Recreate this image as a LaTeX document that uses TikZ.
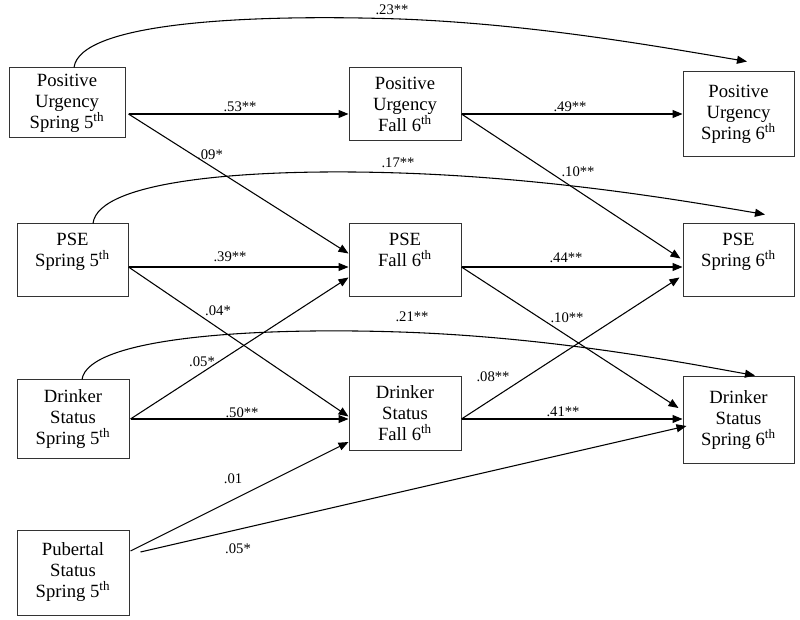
\documentclass[tikz,border=0pt]{standalone}
\usepackage{fontspec}
\setmainfont{Liberation Serif}
\usetikzlibrary{arrows.meta,calc}
\begin{document}
\begin{tikzpicture}[x=0.75pt,y=-0.75pt,
  box/.style={draw=black!80, line width=0.75pt, align=center, inner sep=0pt,
    font=\fontsize{14}{15.75}\selectfont},
  lab/.style={inner sep=0pt, font=\fontsize{11}{12}\selectfont},
  arr/.style={line width=0.8pt, -{Triangle[length=7.5pt,width=6pt]}}]
\useasboundingbox (0,0) rectangle (800,620);
% boxes
\node[box, minimum width=87pt, minimum height=52.5pt] (pu5) at (67,103) {Positive\\Urgency\\Spring 5\textsuperscript{th}};
\node[box, minimum width=84pt, minimum height=54.75pt] (puf6) at (405,104.5) {Positive\\Urgency\\Fall 6\textsuperscript{th}};
\node[box, minimum width=83.25pt, minimum height=63.75pt] (pu6) at (738.5,114.5) {Positive\\Urgency\\Spring 6\textsuperscript{th}};
\node[box, minimum width=83.25pt, minimum height=54.75pt] (pse5) at (72.5,260.5) {PSE\\Spring 5\textsuperscript{th}\\~};
\node[box, minimum width=84pt, minimum height=54.75pt] (psef6) at (405,260.5) {PSE\\Fall 6\textsuperscript{th}\\~};
\node[box, minimum width=83.25pt, minimum height=54.75pt] (pse6) at (738.5,260.5) {PSE\\Spring 6\textsuperscript{th}\\~};
\node[box, minimum width=84pt, minimum height=58.5pt] (ds5) at (73,419) {Drinker\\Status\\Spring 5\textsuperscript{th}};
\node[box, minimum width=84pt, minimum height=54.75pt] (dsf6) at (405,413.5) {Drinker\\Status\\Fall 6\textsuperscript{th}};
\node[box, minimum width=83.25pt, minimum height=64.5pt] (ds6) at (738.5,420) {Drinker\\Status\\Spring 6\textsuperscript{th}};
\node[box, minimum width=84pt, minimum height=63.75pt] (ps5) at (73,572.5) {Pubertal\\Status\\Spring 5\textsuperscript{th}};
% straight paths
\draw[arr] ($(pu5.east)+(3,11)$) -- ($(puf6.west)+(0,9.5)$);
\draw[arr] ($(pu5.east)+(3,11)$) -- ($(psef6.west)+(0,-7)$);
\draw[arr] ($(pse5.east)+(0,6.5)$) -- ($(psef6.west)+(0,6.5)$);
\draw[arr] ($(pse5.east)+(0,6.5)$) -- ($(dsf6.west)+(0,3)$);
\draw[arr] ($(ds5.east)+(1,0)$) -- ($(dsf6.west)+(0,5.5)$);
\draw[arr] ($(ds5.east)+(1,0)$) -- ($(psef6.west)+(0,17)$);
\draw[arr] ($(ps5.east)+(1,-21.5)$) -- ($(dsf6.west)+(0,28.5)$);
\draw[arr] ($(ps5.east)+(11,-20.5)$) -- ($(ds6.west)+(4,6)$);
\draw[arr] ($(puf6.east)+(0,9.5)$) -- ($(pu6.west)+(0,-0.5)$);
\draw[arr] ($(puf6.east)+(0,9.5)$) -- ($(pse6.west)+(-2,-2)$);
\draw[arr] ($(psef6.east)+(0,6.5)$) -- ($(pse6.west)+(0,6.5)$);
\draw[arr] ($(psef6.east)+(0,6.5)$) -- ($(ds6.west)+(-4,-12)$);
\draw[arr] ($(dsf6.east)+(0,5.5)$) -- ($(ds6.west)+(0,-1)$);
\draw[arr] ($(dsf6.east)+(0,5.5)$) -- ($(pse6.west)+(-3,17)$);
% curved paths
\draw[arr] ($(pu5.north)+(7,0)$) .. controls (80,22) and (250,14) .. (400,19)
  .. controls (530,24) and (650,45) .. ($(pu6.north)+(8.5,-10)$);
\draw[arr] ($(pse5.north)+(20.5,0)$) .. controls (98,180) and (250,168) .. (400,173)
  .. controls (550,178) and (680,200) .. ($(pse6.north)+(26.5,-9)$);
\draw[arr] ($(ds5.north)+(9,0)$) .. controls (88,338) and (250,327) .. (400,332)
  .. controls (550,337) and (680,362) .. ($(ds6.north)+(16.5,-1)$);
% labels
\node[lab] (l23) at (392,10) {.23**};
\node[lab] (l53) at (240,107) {.53**};
\node[lab] (l09) at (210,155) {.09*};
\node[lab] (l17) at (398,163) {.17**};
\node[lab] (l39) at (230,257) {.39**};
\node[lab] (l04) at (218,311) {.04*};
\node[lab] (l21) at (412,317) {.21**};
\node[lab] (l05a) at (202,362) {.05*};
\node[lab] (l50) at (242,413) {.50**};
\node[lab] (l01) at (233,479) {.01};
\node[lab] (l05b) at (238,549) {.05*};
\node[lab] (l49) at (570,107) {.49**};
\node[lab] (l10a) at (578,172) {.10**};
\node[lab] (l44) at (566,258) {.44**};
\node[lab] (l10b) at (567,318) {.10**};
\node[lab] (l08) at (493,377) {.08**};
\node[lab] (l41) at (563,412) {.41**};
\end{tikzpicture}
\end{document}
